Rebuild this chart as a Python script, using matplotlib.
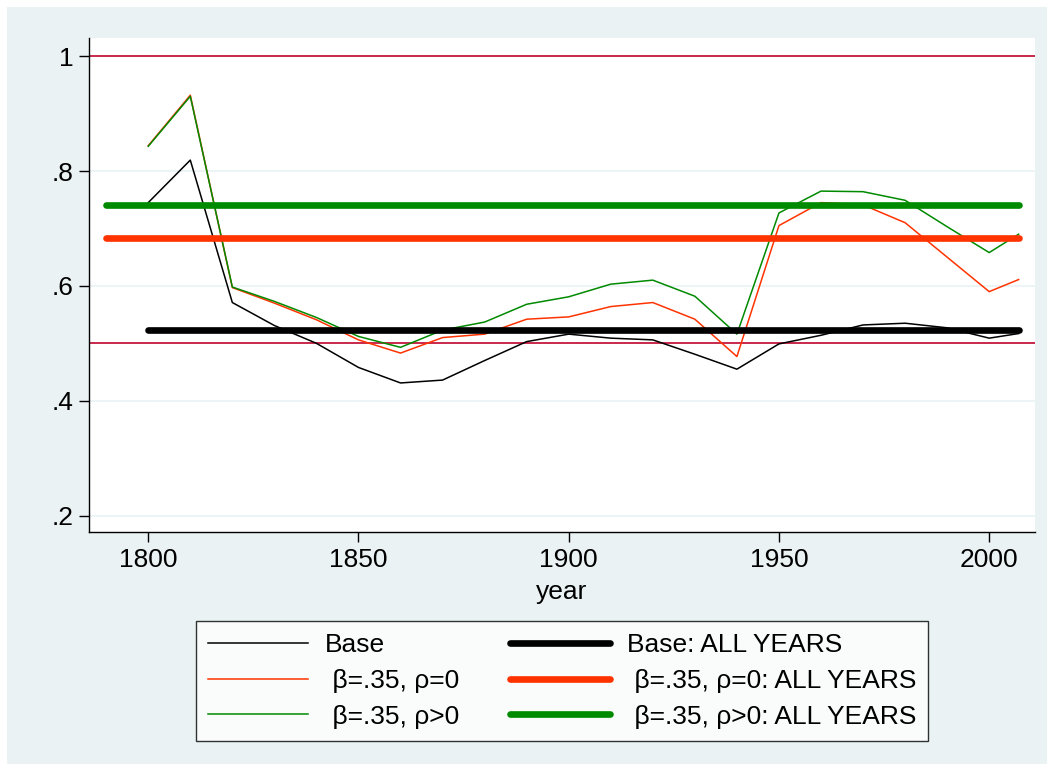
"""
Share series by year, with all-years averages
"""
import matplotlib
matplotlib.use("Agg")
import matplotlib.pyplot as plt
from matplotlib.patches import Rectangle

plt.rcParams['font.family'] = ['Liberation Sans', 'DejaVu Sans']

years = [1800, 1810, 1820, 1830, 1840, 1850, 1860, 1870, 1880, 1890, 1900,
         1910, 1920, 1930, 1940, 1950, 1960, 1970, 1980, 1990, 2000, 2007]
base = [0.745, 0.819, 0.571, 0.531, 0.500, 0.458, 0.431, 0.436, 0.470, 0.503, 0.516,
        0.509, 0.506, 0.481, 0.455, 0.499, 0.514, 0.532, 0.535, 0.527, 0.509, 0.517]
beta_rho0 = [0.844, 0.932, 0.597, 0.570, 0.541, 0.506, 0.483, 0.510, 0.516, 0.542, 0.546,
             0.564, 0.571, 0.542, 0.477, 0.705, 0.745, 0.741, 0.710, 0.650, 0.590, 0.611]
beta_rhop = [0.843, 0.930, 0.598, 0.573, 0.545, 0.512, 0.493, 0.523, 0.537, 0.568, 0.581,
             0.603, 0.610, 0.582, 0.516, 0.727, 0.765, 0.764, 0.749, 0.703, 0.658, 0.690]

# all-years averages and the span each one is drawn over
base_all = 0.523
rho0_all = 0.6835
rhop_all = 0.740
base_span = [1800, 2007]
beta_span = [1790, 2007]

ref_lines = [1.0, 0.5]
yticks = [0.2, 0.4, 0.6, 0.8, 1.0]
ytick_labels = [".2", ".4", ".6", ".8", "1"]
xticks = [1800, 1850, 1900, 1950, 2000]

BG = "#eaf2f3"
CRIMSON = "#c8284b"
RED = "#ff3300"
GREEN = "#008a00"
FS = 19

fig = plt.figure(figsize=(10.54, 7.71), dpi=100, facecolor="white")
fig.patches.append(Rectangle((7 / 1054, 7 / 771), 1040 / 1054, 757 / 771,
                             transform=fig.transFigure, facecolor=BG,
                             edgecolor="none", zorder=-10))
ax = fig.add_axes([0.0844, 0.3096, 0.8976, 0.6407])
ax.set_facecolor("white")

for v in yticks:
    ax.axhline(v, color=BG, lw=1.2, zorder=0.5)
for v in ref_lines:
    ax.axhline(v, color=CRIMSON, lw=1.4, zorder=1)

l1, = ax.plot(years, base, color="black", lw=1.1, zorder=2, label="Base")
l2, = ax.plot(years, beta_rho0, color=RED, lw=1.1, zorder=2, label=" β=.35, ρ=0")
l3, = ax.plot(years, beta_rhop, color=GREEN, lw=1.1, zorder=2, label=" β=.35, ρ>0")
l4, = ax.plot(base_span, [base_all, base_all], color="black", lw=4.8,
              solid_capstyle="round", zorder=3, label="Base: ALL YEARS")
l5, = ax.plot(beta_span, [rho0_all, rho0_all], color=RED, lw=4.8,
              solid_capstyle="round", zorder=3, label=" β=.35, ρ=0: ALL YEARS")
l6, = ax.plot(beta_span, [rhop_all, rhop_all], color=GREEN, lw=4.8,
              solid_capstyle="round", zorder=3, label=" β=.35, ρ>0: ALL YEARS")

ax.set_xlim(1785.9, 2010.9)
ax.set_ylim(0.171, 1.031)
ax.set_xticks(xticks)
ax.set_xticklabels([str(x) for x in xticks])
ax.set_yticks(yticks)
ax.set_yticklabels(ytick_labels)
ax.tick_params(axis="both", direction="out", length=7, width=1.0,
               labelsize=FS, pad=4, colors="black")
ax.spines["top"].set_visible(False)
ax.spines["right"].set_visible(False)
ax.spines["left"].set_linewidth(1.0)
ax.spines["bottom"].set_linewidth(1.0)
ax.set_xlabel("year", fontsize=FS, labelpad=6)

leg = fig.legend(handles=[l1, l2, l3, l4, l5, l6], ncol=2, loc="center",
                 bbox_to_anchor=(562 / 1054, 1 - 680.8 / 771), fontsize=FS,
                 frameon=True, fancybox=False, edgecolor="black",
                 handlelength=3.8, handletextpad=0.64, columnspacing=1.9,
                 labelspacing=0.45, borderpad=0.45, borderaxespad=0)
leg.get_frame().set_linewidth(1.0)
leg.get_frame().set_facecolor("white")

fig.savefig("out.png", dpi=100, facecolor="white")
